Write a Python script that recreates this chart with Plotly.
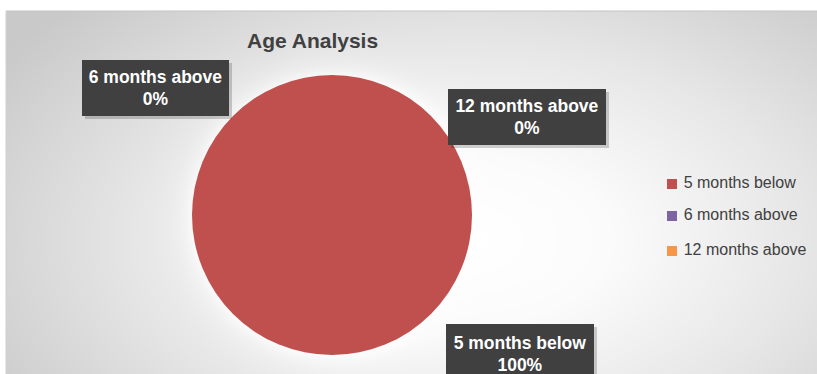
import numpy as np
import plotly.graph_objects as go

# Age analysis data
categories = ["5 months below", "6 months above", "12 months above"]
values = [100, 0, 0]
colors = ["#C0504D", "#8064A2", "#F79646"]
title_text = "Age Analysis"

W, H = 817, 374
L, T = 6, 11                       # chart area offset inside the page
PW, PH = W - L, H - T              # plot area size in pixels


def px(x):
    return (x - L) / PW


def py(y):
    return (H - y) / PH


fig = go.Figure()

# Soft radial background (white centre fading to grey at the edges),
# with a faint light halo around the pie
gx = np.linspace(0, PW, 200)
gy = np.linspace(0, PH, 100)
X, Y = np.meshgrid(gx, gy)
cx, cy = 470 - L, H - 240
d = np.sqrt(((X - cx) / 560) ** 2 + ((Y - cy) / 330) ** 2)
d = np.clip(d, 0, 1)
pr = np.sqrt((X - (332 - L)) ** 2 + (Y - (H - 215)) ** 2)
halo = np.exp(-np.clip(pr - 140, 0, None) / 12)
d = d * (1 - 0.45 * halo)
fig.add_trace(go.Heatmap(
    x=gx, y=gy, z=d, zmin=0, zmax=1, zsmooth="best",
    colorscale=[[0, "#ffffff"], [0.25, "#fbfbfb"], [0.6, "#e6e6e6"], [1, "#c9c9c9"]],
    showscale=False, hoverinfo="skip",
))

# Pie
total = sum(values)
fig.add_trace(go.Pie(
    labels=categories, values=values, sort=False,
    marker=dict(colors=colors, line=dict(width=0)),
    textinfo="none", hoverinfo="label+percent", showlegend=False,
    domain=dict(x=[px(192), px(472)], y=[py(355), py(75)]),
))

# Legend drawn as square markers with labels
leg_y = [184, 216, 251]
fig.add_trace(go.Scatter(
    x=[672 - L] * len(categories), y=[H - v for v in leg_y],
    mode="markers+text", text=[" " + c for c in categories],
    textposition="middle right",
    textfont=dict(family="Liberation Sans", size=16, color="#404040"),
    marker=dict(symbol="square", size=10, color=colors, line=dict(width=0)),
    showlegend=False, hoverinfo="skip", cliponaxis=False,
))

fig.update_xaxes(range=[0, PW], visible=False, fixedrange=True)
fig.update_yaxes(range=[0, PH], visible=False, fixedrange=True)

# Data label boxes
boxes = {
    "6 months above": (82, 60, 229, 116),
    "12 months above": (448, 89, 606, 145),
    "5 months below": (446, 324, 594, 384),
}
shapes = []
annotations = []
for cat, val in zip(categories, values):
    x0, y0, x1, y1 = boxes[cat]
    pct = round(100 * val / total)
    # drop shadow
    shapes.append(dict(type="rect", xref="paper", yref="paper",
                       x0=px(x0 + 3), x1=px(x1 + 3), y0=py(y1 + 3), y1=py(y0 + 3),
                       fillcolor="rgba(0,0,0,0.18)", line=dict(width=0), layer="above"))
    annotations.append(dict(
        x=px((x0 + x1) / 2), y=py((y0 + y1) / 2), xref="paper", yref="paper",
        xanchor="center", yanchor="middle",
        text=f"<b>{cat}<br>{pct}%</b>", showarrow=False,
        font=dict(family="Liberation Sans", size=17.5, color="white"),
        bgcolor="#404040", borderpad=0, borderwidth=0,
        width=x1 - x0, height=y1 - y0, align="center", valign="middle",
    ))

annotations.append(dict(
    x=px(312), y=py(40), xref="paper", yref="paper", xanchor="center", yanchor="middle",
    text=f"<b>{title_text}</b>",
    showarrow=False, font=dict(family="Liberation Sans", size=21, color="#404040"),
))

# thin frame along the chart edge
shapes.append(dict(type="line", xref="paper", yref="paper", x0=0, x1=1, y0=1, y1=1,
                   line=dict(color="#c4c4c4", width=1)))
shapes.append(dict(type="line", xref="paper", yref="paper", x0=0, x1=0, y0=0, y1=1,
                   line=dict(color="#d0d0d0", width=1)))

fig.update_layout(
    width=W, height=H,
    margin=dict(l=L, r=0, t=T, b=0),
    paper_bgcolor="white", plot_bgcolor="white",
    shapes=shapes, annotations=annotations,
    showlegend=False,
)

fig.write_html("out.html")
